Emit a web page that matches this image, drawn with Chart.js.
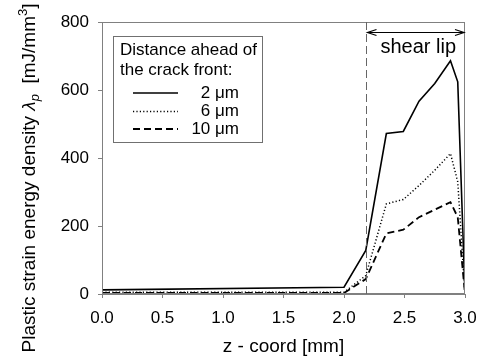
<!DOCTYPE html>
<html>
<head>
<meta charset="utf-8">
<script src="https://cdn.jsdelivr.net/npm/chart.js@4/dist/chart.umd.min.js"></script>
<style>
html,body{margin:0;padding:0;background:#fff;}
#wrap{width:480px;height:358px;position:relative;}
</style>
</head>
<body>
<div id="wrap"><canvas id="c" width="480" height="358"></canvas></div>
<script>
// ---- data ----
const zCoord   = [0.0, 2.0, 2.18, 2.35, 2.49, 2.62, 2.75, 2.88, 2.94, 3.0];
const lambda2  = [12, 20, 128, 472, 478, 567, 619, 686, 624, 0];
const lambda6  = [5, 5, 54, 265, 278, 319, 364, 413, 330, 0];
const lambda10 = [3, 3, 44, 178, 189, 226, 248, 270, 226, 0];
const seriesLabels = ["2 \u03BCm", "6 \u03BCm", "10 \u03BCm"];
const legendTitle = ["Distance ahead of", "the crack front:"];
const shearLipStart = 2.18;
const shearLipEnd = 3.0;
const xTicks = [0, 0.5, 1.0, 1.5, 2.0, 2.5, 3.0];
const yTicks = [0, 200, 400, 600, 800];

const FONT = "'Liberation Sans', Arial, sans-serif";
const toPts = (xs, ys) => xs.map((x, i) => ({x: x, y: ys[i]}));

const styles = [
  {dash: [], width: 1.6},
  {dash: [1.2, 2.2], width: 1.5},
  {dash: [7, 4], width: 1.8}
];

const overlay = {
  id: 'overlay',
  afterDatasetsDraw(chart) {
    const ctx = chart.ctx;
    const a = chart.chartArea;
    const xs = chart.scales.x;
    ctx.save();
    // frame
    ctx.strokeStyle = '#808080';
    ctx.lineWidth = 1;
    ctx.strokeRect(a.left + 0.5, a.top + 0.5, a.right - a.left - 1, a.bottom - a.top - 1);

    // shear lip dashed line
    const xs0 = Math.round(xs.getPixelForValue(shearLipStart)) + 0.5;
    const xs1 = xs.getPixelForValue(shearLipEnd) - 1;
    ctx.strokeStyle = '#666';
    ctx.setLineDash([8, 4]);
    ctx.beginPath();
    ctx.moveTo(xs0, a.top);
    ctx.lineTo(xs0, a.bottom);
    ctx.stroke();
    ctx.setLineDash([]);

    // arrow
    const ay = a.top + 10.5;
    ctx.strokeStyle = '#000';
    ctx.lineWidth = 1.2;
    ctx.beginPath();
    ctx.moveTo(xs0 + 1, ay); ctx.lineTo(xs1, ay);
    ctx.moveTo(xs0 + 10, ay - 3); ctx.lineTo(xs0 + 1, ay); ctx.lineTo(xs0 + 10, ay + 3);
    ctx.moveTo(xs1 - 9, ay - 3); ctx.lineTo(xs1, ay); ctx.lineTo(xs1 - 9, ay + 3);
    ctx.stroke();

    ctx.fillStyle = '#000';
    ctx.font = '20px ' + FONT;
    ctx.textAlign = 'center';
    ctx.textBaseline = 'middle';
    ctx.fillText('shear lip', (xs0 + xs1) / 2 + 3, a.top + 25);

    // legend box
    const lx = 113.5, ly = 36.5, lw = 149, lh = 106;
    ctx.fillStyle = '#fff';
    ctx.fillRect(lx, ly, lw, lh);
    ctx.strokeStyle = '#707070';
    ctx.lineWidth = 1;
    ctx.strokeRect(lx, ly, lw, lh);
    ctx.fillStyle = '#000';
    ctx.font = '17px ' + FONT;
    ctx.textAlign = 'left';
    ctx.textBaseline = 'middle';
    ctx.fillText(legendTitle[0], 120, 50);
    ctx.fillText(legendTitle[1], 120, 70);
    const rows = [93, 111.5, 129];
    chart.data.datasets.forEach((ds, i) => {
      ctx.strokeStyle = '#000';
      ctx.lineWidth = ds.borderWidth;
      ctx.setLineDash(ds.borderDash || []);
      ctx.beginPath();
      ctx.moveTo(133, rows[i]);
      ctx.lineTo(178, rows[i]);
      ctx.stroke();
      ctx.setLineDash([]);
      ctx.textAlign = 'right';
      ctx.fillText(ds.label, 239, rows[i]);
    });

    // y-axis title (rotated, with subscript / superscript)
    ctx.translate(35, 178);
    ctx.rotate(-Math.PI / 2);
    ctx.textBaseline = 'alphabetic';
    ctx.textAlign = 'left';
    const parts = [
      {t: 'Plastic strain energy density ', f: '19px ' + FONT, dy: 0},
      {t: '\u03BB', f: 'italic 19px ' + FONT, dy: 0},
      {t: 'p', f: 'italic 13px ' + FONT, dy: 4},
      {t: '  [mJ/mm', f: '19px ' + FONT, dy: 0},
      {t: '3', f: '13px ' + FONT, dy: -8},
      {t: ']', f: '19px ' + FONT, dy: 0}
    ];
    let total = 0;
    parts.forEach(p => { ctx.font = p.f; p.w = ctx.measureText(p.t).width; total += p.w; });
    let x = -total / 2;
    parts.forEach(p => { ctx.font = p.f; ctx.fillText(p.t, x, p.dy); x += p.w; });
    ctx.restore();
  }
};

new Chart(document.getElementById('c'), {
  type: 'scatter',
  data: {
    datasets: [
      {label: seriesLabels[0], data: toPts(zCoord, lambda2)},
      {label: seriesLabels[1], data: toPts(zCoord, lambda6)},
      {label: seriesLabels[2], data: toPts(zCoord, lambda10)}
    ].map((d, i) => Object.assign(d, {
      showLine: true, pointRadius: 0, borderColor: '#000', backgroundColor: '#000',
      borderWidth: styles[i].width, borderDash: styles[i].dash, tension: 0, fill: false
    }))
  },
  options: {
    responsive: false,
    animation: false,
    devicePixelRatio: 1,
    layout: {padding: {top: 22, right: 15, left: 0, bottom: 0}},
    plugins: {legend: {display: false}, tooltip: {enabled: false}},
    scales: {
      x: {
        type: 'linear', min: 0, max: 3,
        afterBuildTicks: s => { s.ticks = xTicks.map(v => ({value: v})); },
        afterFit: s => { s.height = 64; s.paddingLeft = 0; s.paddingRight = 0; },
        ticks: {color: '#000', font: {size: 17, family: FONT}, padding: 10, callback: v => Number(v).toFixed(1), maxRotation: 0},
        grid: {drawOnChartArea: false, drawTicks: true, tickLength: 4, color: '#808080'},
        border: {display: true, color: '#808080'},
        title: {display: true, text: 'z - coord [mm]', color: '#000', font: {size: 19, family: FONT}, padding: {top: 0, bottom: 0}}
      },
      y: {
        type: 'linear', min: 0, max: 800,
        afterBuildTicks: s => { s.ticks = yTicks.map(v => ({value: v})); },
        afterFit: s => { s.width = 102; s.paddingTop = 0; s.paddingBottom = 0; },
        ticks: {color: '#000', font: {size: 17, family: FONT}, padding: 9},
        grid: {drawOnChartArea: false, drawTicks: true, tickLength: 4, color: '#808080'},
        border: {display: true, color: '#808080'}
      }
    }
  },
  plugins: [overlay]
});
</script>
</body>
</html>
